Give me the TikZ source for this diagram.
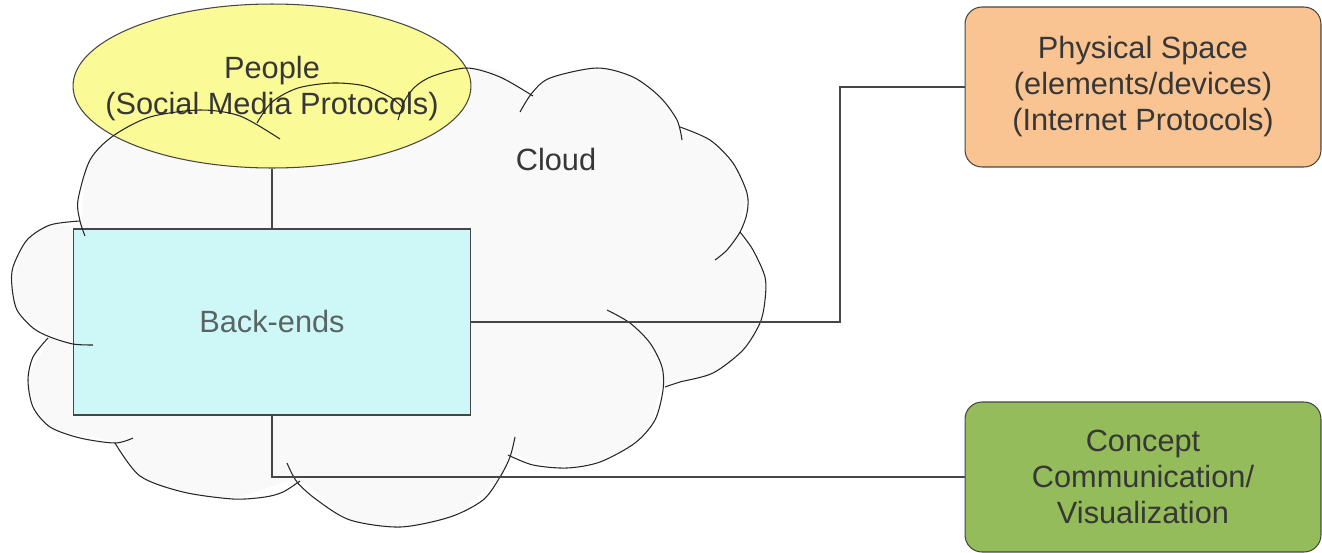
\documentclass[tikz,border=0pt]{standalone}
\usepackage{fontspec}
\setmainfont{Liberation Sans}
\usetikzlibrary {positioning}
\usetikzlibrary {shapes.geometric}
\definecolor{cloudgray}{RGB}{249,249,249}
\definecolor{peopleyellow}{RGB}{250,250,150}
\definecolor{backcyan}{RGB}{206,248,248}
\definecolor{physorange}{RGB}{250,196,146}
\definecolor{conceptgreen}{RGB}{148,188,90}
\definecolor{textgray}{RGB}{55,55,55}
\definecolor{backtext}{RGB}{90,100,100}
\definecolor{edgegray}{RGB}{70,70,70}

\begin{document}
\begin{tikzpicture}[x=0.02cm, y=-0.02cm,
	txt/.style={text=textgray, align=center, font=\fontsize{17.5}{20.5}\selectfont},
	bump/.style={draw=black!85, line width=0.6pt},
	link/.style={draw=edgegray, line width=0.6pt},
	roundbox/.style={txt, draw=edgegray, line width=0.6pt, rounded corners=0.34cm, minimum width=7.12cm, inner sep=0pt}]
	\useasboundingbox (0,0) rectangle (1322,552);
	% cloud body
	\fill[cloudgray] plot[smooth cycle] coordinates {(80,221) (90,160) (150,117) (200,110) (262,121) (297,88) (333,83) (380,90) (405,108) (433,77) (467,68) (500,72) (530,95) (550,78) (597,68) (633,77) (660,97) (680,128) (710,140) (733,163) (747,193) (740,232) (765,277) (760,323) (743,350) (713,373) (663,387) (650,427) (617,453) (567,468) (512,456) (500,477) (450,517) (400,527) (350,520) (298,482) (233,498) (183,492) (140,476) (115,443) (50,427) (28,380) (48,338) (17,310) (12,287) (27,240) (50,225)};
	\node[txt] (cloudlabel) at (556,160) {Cloud};
	% nodes
	\node[ellipse, draw=edgegray, line width=0.6pt, fill=peopleyellow, minimum width=7.96cm, minimum height=3.28cm, inner sep=0pt,
		label={[txt, yshift=-0.06cm]center:People\\(Social Media Protocols)}] (people) at (272,86) {};
	\node[txt, text=backtext, draw=edgegray, line width=0.6pt, fill=backcyan, minimum width=7.94cm, minimum height=3.72cm, inner sep=0pt] (backends) at (272,322) {Back-ends};
	\node[roundbox, fill=physorange, minimum height=3.2cm] (physical) at (1143,87) {Physical Space\\(elements/devices)\\(Internet Protocols)};
	\node[roundbox, fill=conceptgreen, minimum height=3.0cm] (concept) at (1143,477) {Concept\\Communication/\\Visualization};
	% cloud outline, drawn over the nodes
	\draw[bump] plot[smooth] coordinates {(85,236) (80,221) (78,200) (90,160) (113,136) (150,117) (200,110) (240,116) (280,139)};
	\draw[bump] plot[smooth] coordinates {(257,123) (272,102) (298,88) (333,83) (365,86) (390,97) (402,107)};
	\draw[bump] plot[smooth] coordinates {(398,120) (405,100) (416,86) (433,76) (467,68) (500,77) (533,96)};
	\draw[bump] plot[smooth] coordinates {(520,112) (532,93) (550,78) (597,68) (633,77) (660,97) (677,120) (682,140)};
	\draw[bump] plot[smooth] coordinates {(680,127) (710,140) (733,163) (747,193) (747,213) (740,232) (727,250) (715,260)};
	\draw[bump] plot[smooth] coordinates {(740,232) (753,250) (765,277) (765,300) (760,323) (743,350) (713,373) (680,382) (665,387)};
	\draw[bump] plot[smooth] coordinates {(607,310) (630,323) (650,343) (662,367) (663,390) (655,420) (635,443) (600,462) (567,468) (533,465) (508,455)};
	\draw[bump] plot[smooth] coordinates {(515,437) (510,457) (500,477) (483,500) (450,517) (400,527) (350,520) (317,500) (297,482) (287,463)};
	\draw[bump] plot[smooth] coordinates {(115,443) (140,476) (183,492) (233,499) (265,497) (283,492) (300,481)};
	\draw[bump] plot[smooth] coordinates {(133,438) (115,443) (80,438) (50,427) (33,407) (28,380) (33,357) (48,338)};
	\draw[bump] plot[smooth] coordinates {(93,345) (73,344) (50,337) (33,328) (17,310) (12,287) (13,267) (27,240) (50,225) (80,221)};
	% connectors
	\coordinate (bend) at (840,322);
	\draw[link] (people) -- (backends);
	\draw[link] (backends.east) -- (bend) |- (physical.west);
	\draw[link] (backends.south) |- (concept.west);
\end{tikzpicture}
\end{document}
